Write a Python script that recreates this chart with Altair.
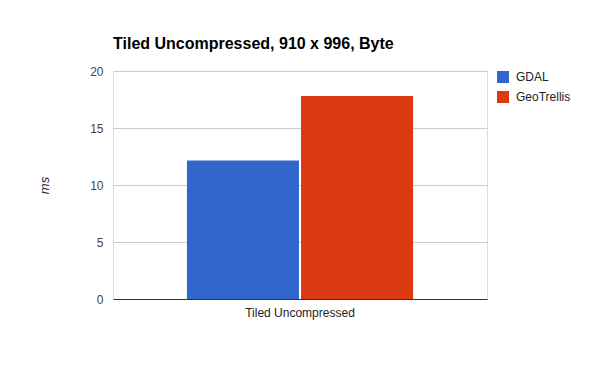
import altair as alt
import pandas as pd

categories = ["Tiled Uncompressed", "Tiled Uncompressed"]
series = ["GDAL", "GeoTrellis"]
values = [12.16, 17.8]
colors = ["#3366cc", "#dc3912"]

df = pd.DataFrame({"cat": categories, "series": series, "ms": values})

FONT = "Arial, Liberation Sans, sans-serif"

chart = alt.Chart(df).mark_bar().encode(
    x=alt.X("cat:N", title=None,
            scale=alt.Scale(paddingInner=0, paddingOuter=0.327),
            axis=alt.Axis(labelAngle=0, ticks=False, domain=True, domainColor="#333333",
                          labelFont=FONT, labelFontSize=12, labelColor="#222222",
                          labelPadding=8, grid=False)),
    xOffset=alt.XOffset("series:N", scale=alt.Scale(paddingInner=0.018, paddingOuter=0)),
    y=alt.Y("ms:Q", title="ms",
            scale=alt.Scale(domain=[0, 20]),
            axis=alt.Axis(values=[0, 5, 10, 15, 20], ticks=False, domain=False,
                          grid=True, gridColor="#cccccc",
                          labelFont=FONT, labelFontSize=12, labelColor="#444444",
                          labelPadding=10, titleFont=FONT, titleFontSize=13,
                          titleFontStyle="italic", titleFontWeight="normal",
                          titleColor="#222222", titlePadding=38)),
    color=alt.Color("series:N", scale=alt.Scale(domain=series, range=colors),
                    legend=alt.Legend(title=None, orient="none", legendX=384, legendY=0,
                                      symbolType="square", symbolSize=144,
                                      symbolStrokeWidth=0, labelFont=FONT,
                                      labelFontSize=12, labelColor="#222222",
                                      rowPadding=8, labelOffset=7)),
).properties(
    width=374,
    height=228,
    autosize=alt.AutoSizeParams(type="none"),
    padding={"left": 113, "top": 71, "right": 113, "bottom": 72},
    title=alt.Title("Tiled Uncompressed, 910 x 996, Byte", anchor="start", frame="group",
                    font=FONT, fontSize=16, fontWeight="bold", color="#000000",
                    baseline="alphabetic", offset=0),
).configure_view(stroke=None).configure(background="#ffffff")

chart.save("out.html", embed_options={"renderer": "svg", "actions": False})
